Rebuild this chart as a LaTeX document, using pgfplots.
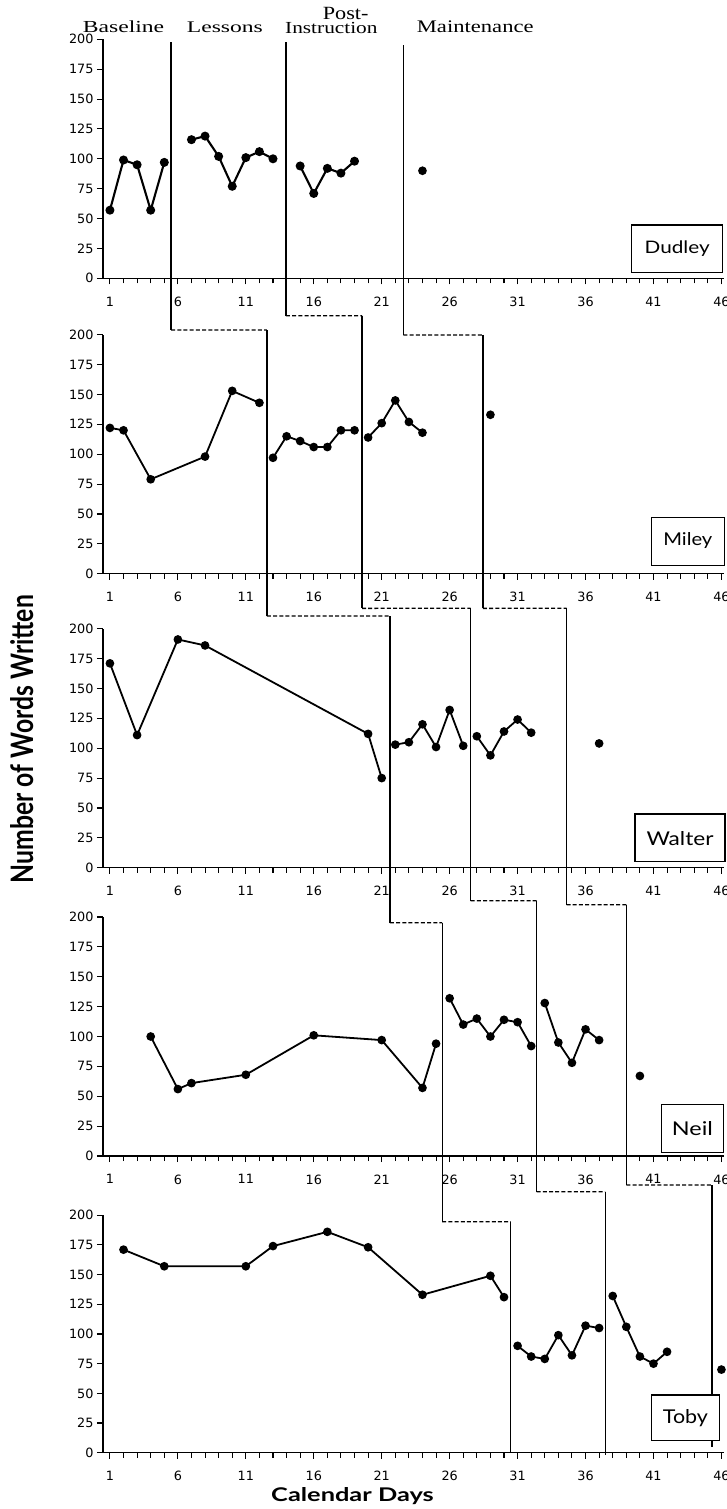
\documentclass[border=0pt]{standalone}
\usepackage{pgfplots}
\pgfplotsset{compat=1.18}
\usepackage{fontspec}
\setmainfont{Liberation Serif}
\newfontfamily\tickfont{DejaVu Sans}
\newfontfamily\gill{Lato}
\usepackage{graphicx}

\pgfplotsset{
  panel/.style={
    scale only axis, width=621pt, height=239pt,
    anchor=south west,
    xmin=0.49, xmax=46.19, ymin=0, ymax=200,
    axis lines=left,
    axis line style={line width=1.5pt,-},
    xtick={1,6,...,46}, minor xtick={1,...,46},
    ytick={0,25,...,200},
    tick align=outside,
    major tick length=6pt, minor tick length=5pt,
    tick style={black, line width=1.1pt},
    /pgf/number format/assume math mode=true,
    ticklabel style={font=\tickfont\fontsize{12.8}{14}\selectfont},
    xticklabel style={yshift=-9pt},
    clip=false,
  },
  data/.style={black, line width=1.8pt, mark=*, mark size=3.4pt},
}
\tikzset{phase/.style={black, line width=1.3pt},
         conn/.style={black, line width=1.3pt, dash pattern=on 4pt off 2.2pt}}

\begin{document}
\begin{tikzpicture}[x=1pt,y=1pt]
\useasboundingbox (0,0) rectangle (726,-1509);

% ---------------- Dudley
\begin{axis}[panel, at={(103pt,-278.3pt)}]
\draw[phase] (axis cs:5.5,197.7) -- (axis cs:5.5,-43.3) coordinate (A1);
\draw[phase] (axis cs:13.95,197.7) -- (axis cs:13.95,-31.3) coordinate (B1);
\draw[phase] (axis cs:22.6,195) -- (axis cs:22.6,-47.4) coordinate (C1);
\addplot[data, line width=2.1pt] coordinates {(1,57)(2,99)(3,95)(4,57)(5,97)};
\addplot[data, line width=2.1pt] coordinates {(7,116)(8,119)(9,102)(10,77)(11,101)(12,106)(13,100)};
\addplot[data, line width=2.1pt] coordinates {(15,94)(16,71)(17,92)(18,88)(19,98)};
\addplot[data, only marks] coordinates {(24,90)};
\end{axis}

% ---------------- Miley
\begin{axis}[panel, at={(103pt,-573.7pt)}]
\draw[phase] (axis cs:12.55,203.9) coordinate (A2t) -- (axis cs:12.55,-35.4) coordinate (A2);
\draw[phase] (axis cs:19.55,215.9) coordinate (B2t) -- (axis cs:19.55,-29.0) coordinate (B2);
\draw[phase] (axis cs:28.45,199.8) coordinate (C2t) -- (axis cs:28.45,-29.0) coordinate (C2);
\addplot[data] coordinates {(1,122)(2,120)(4,79)(8,98)(10,153)(12,143)};
\addplot[data] coordinates {(13,97)(14,115)(15,111)(16,106)(17,106)(18,120)(19,120)};
\addplot[data] coordinates {(20,114)(21,126)(22,145)(23,127)(24,118)};
\addplot[data, only marks] coordinates {(29,133)};
\end{axis}

% ---------------- Walter
\begin{axis}[panel, at={(103pt,-867.7pt)}]
\draw[phase] (axis cs:21.6,210.6) coordinate (A3t) -- (axis cs:21.6,-46.0) coordinate (A3);
\draw[phase] (axis cs:27.55,217.1) coordinate (B3t) -- (axis cs:27.55,-27.6) coordinate (B3);
\draw[phase] (axis cs:34.6,217.1) coordinate (C3t) -- (axis cs:34.6,-31.0) coordinate (C3);
\addplot[data] coordinates {(1,171)(3,111)(6,191)(8,186)(20,112)(21,75)};
\addplot[data] coordinates {(22,103)(23,105)(24,120)(25,101)(26,132)(27,102)};
\addplot[data] coordinates {(28,110)(29,94)(30,114)(31,124)(32,113)};
\addplot[data, only marks] coordinates {(37,104)};
\end{axis}

% ---------------- Neil
\begin{axis}[panel, at={(103pt,-1156pt)}]
\draw[phase] (axis cs:25.45,195.2) coordinate (A4t) -- (axis cs:25.45,-55.0) coordinate (A4);
\draw[phase] (axis cs:32.4,213.6) coordinate (B4t) -- (axis cs:32.4,-29.9) coordinate (B4);
\draw[phase] (axis cs:39.0,210.3) coordinate (C4t) -- (axis cs:39.0,-24.3) coordinate (C4);
\addplot[data] coordinates {(4,100)(6,56)(7,61)(11,68)(16,101)(21,97)(24,57)(25,94)};
\addplot[data] coordinates {(26,132)(27,110)(28,115)(29,100)(30,114)(31,112)(32,92)};
\addplot[data] coordinates {(33,128)(34,95)(35,78)(36,106)(37,97)};
\addplot[data, only marks] coordinates {(40,67)};
\end{axis}

% ---------------- Toby
\begin{axis}[panel, height=237.5pt, at={(103pt,-1452.7pt)}]
\draw[phase] (axis cs:30.5,194.5) coordinate (A5t) -- (axis cs:30.5,0);
\draw[phase] (axis cs:37.45,219.8) coordinate (B5t) -- (axis cs:37.45,-2);
\draw[phase] (axis cs:45.3,225.4) coordinate (C5t) -- (axis cs:45.3,5);
\addplot[data] coordinates {(2,171)(5,157)(11,157)(13,174)(17,186)(20,173)(24,133)(29,149)(30,131)};
\addplot[data] coordinates {(31,90)(32,81)(33,79)(34,99)(35,82)(36,107)(37,105)};
\addplot[data] coordinates {(38,132)(39,106)(40,81)(41,75)(42,85)};
\addplot[data, only marks] coordinates {(46,70)};
\end{axis}

% dashed connectors between panels
\draw[conn] (A1) -- (A2t);
\draw[conn] (B1) -- (B2t);
\draw[conn] (C1) -- (C2t);
\draw[conn] (A2) -- (A3t);
\draw[conn] (B2) -- (B3t);
\draw[conn] (C2) -- (C3t);
\draw[conn] (A3) -- (A4t);
\draw[conn] (B3) -- (B4t);
\draw[conn] (C3) -- (C4t);
\draw[conn] (A4) -- (A5t);
\draw[conn] (B4) -- (B5t);
\draw[conn] (C4) -- (C5t);

% phase headings
\node[anchor=base west, inner sep=0] at (82.7,-32.3) {\resizebox{81.3pt}{11.7pt}{Baseline}};
\node[anchor=base west, inner sep=0] at (186.7,-32.3) {\resizebox{76pt}{10.6pt}{Lessons}};
\node[anchor=base west, inner sep=0] at (322.7,-19.5) {\resizebox{45.6pt}{12.2pt}{Post-}};
\node[anchor=base west, inner sep=0] at (285,-34) {\resizebox{92.3pt}{11.2pt}{Instruction}};
\node[anchor=base west, inner sep=0] at (416.7,-32.3) {\resizebox{116.7pt}{11.7pt}{Maintenance}};

% axis titles
\node[rotate=90, anchor=base, inner sep=0] at (33,-739) {\resizebox{288pt}{23pt}{\gill\bfseries Number of Words Written}};
\node[anchor=base west, inner sep=0] at (271,-1501.7) {\resizebox{162.5pt}{14pt}{\gill\bfseries Calendar Days}};

% participant boxes
\draw[line width=1.3pt, fill=white] (631.7,-225) rectangle (722.7,-272.7);
\node[anchor=base, inner sep=0] at (677.2,-253.3) {\resizebox{65pt}{12.7pt}{\gill Dudley}};
\draw[line width=1.3pt, fill=white] (651.4,-517.3) rectangle (724.2,-565.3);
\node[anchor=base, inner sep=0] at (687.8,-545.5) {\resizebox{49pt}{13pt}{\gill Miley}};
\draw[line width=1.3pt, fill=white] (635,-814) rectangle (725,-861.7);
\node[anchor=base, inner sep=0] at (680,-845) {\resizebox{67pt}{14pt}{\gill Walter}};
\draw[line width=1.3pt, fill=white] (661.6,-1104.3) rectangle (723.2,-1152.7);
\node[anchor=base, inner sep=0] at (692.4,-1135) {\resizebox{41pt}{14pt}{\gill Neil}};
\draw[line width=1.3pt, fill=white] (651.4,-1395) rectangle (719.5,-1440.7);
\node[anchor=base, inner sep=0] at (685.45,-1423.3) {\resizebox{45pt}{14pt}{\gill Toby}};
\end{tikzpicture}
\end{document}
